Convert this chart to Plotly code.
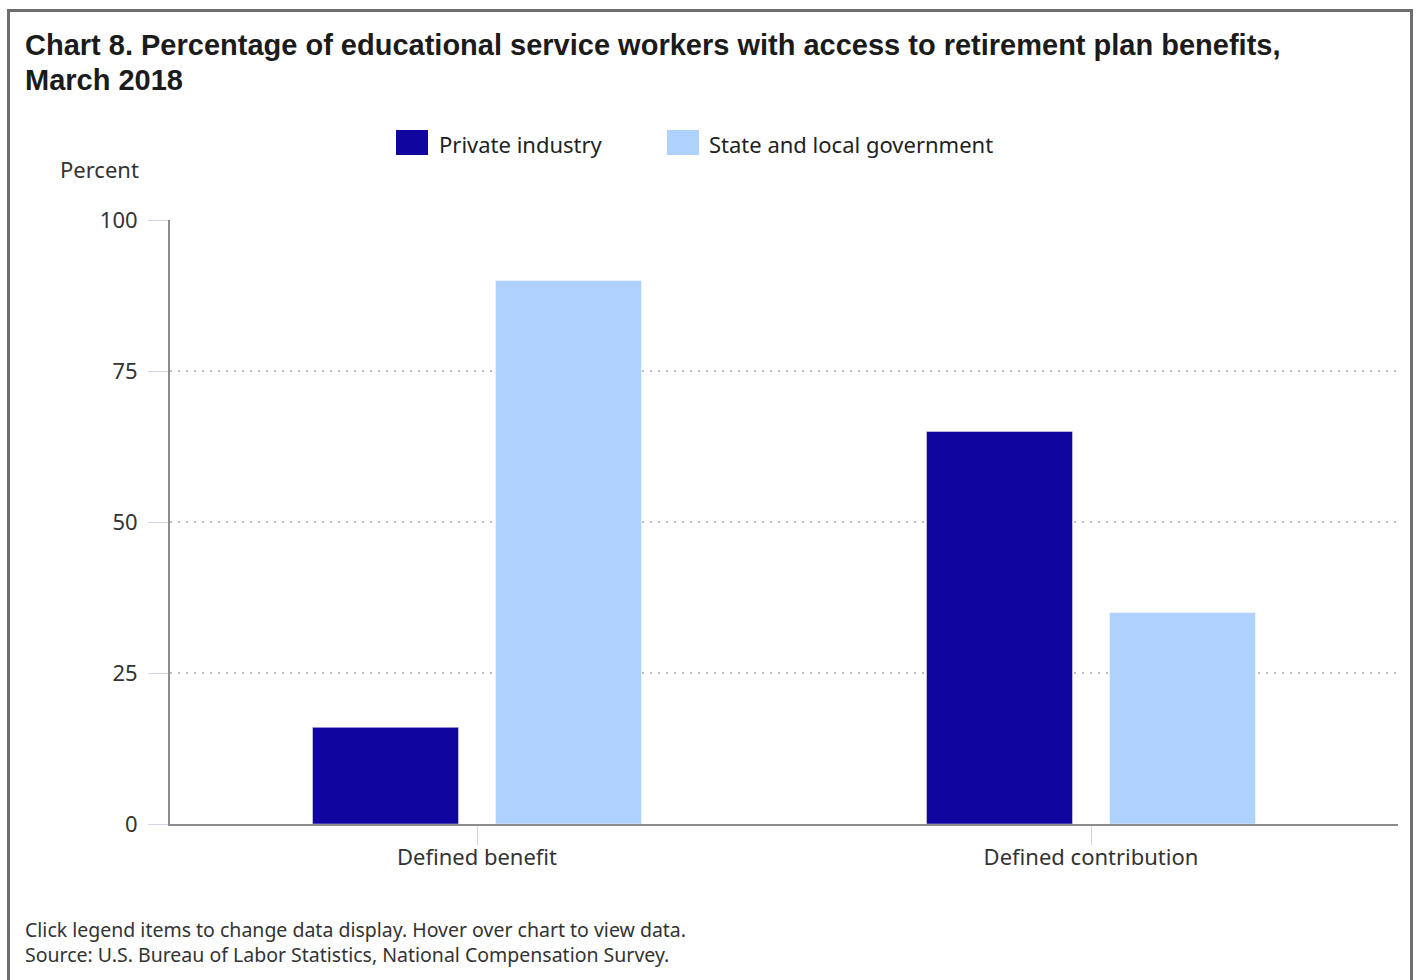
import plotly.graph_objects as go

# Data
categories = ["Defined benefit", "Defined contribution"]
private_industry = [16, 65]
state_local_gov = [90, 35]
series_names = ["Private industry", "State and local government"]
y_ticks = [0, 25, 50, 75, 100]
title_lines = [
    "Chart 8. Percentage of educational service workers with access to retirement plan benefits,",
    "March 2018",
]

DARK = "#10059f"
LIGHT = "#afd1fe"
TEXT_FONT = "Noto Sans"
TITLE_FONT = "Liberation Sans"

W, H = 1417, 980
L, R, T, B = 170, 19, 220, 156
PW, PH = W - L - R, H - T - B


def px(x):
    return (x - L) / PW


def py(y):
    return (H - B - y) / PH


fig = go.Figure()
fig.add_trace(go.Bar(
    x=categories, y=private_industry, name=series_names[0],
    marker=dict(color=DARK, line=dict(color="rgba(255,255,255,0.45)", width=1)),
    showlegend=False,
))
fig.add_trace(go.Bar(
    x=categories, y=state_local_gov, name=series_names[1],
    marker=dict(color=LIGHT, line=dict(color="rgba(255,255,255,0.45)", width=1)),
    showlegend=False,
))

shapes = []
# outer frame (left, top, right edges)
frame = dict(type="line", xref="paper", yref="paper",
             line=dict(color="#6e6e6e", width=3))
shapes.append({**frame, "x0": px(8.5), "x1": px(8.5), "y0": py(10.5), "y1": py(990)})
shapes.append({**frame, "x0": px(7), "x1": px(1413), "y0": py(10.5), "y1": py(10.5)})
shapes.append({**frame, "x0": px(1411.5), "x1": px(1411.5), "y0": py(10.5), "y1": py(990)})

# legend swatches
for (x0, x1), col in [((396, 428), DARK), ((667, 699), LIGHT)]:
    shapes.append(dict(type="rect", xref="paper", yref="paper",
                       x0=px(x0), x1=px(x1), y0=py(155), y1=py(130),
                       fillcolor=col, line=dict(width=0)))


def note(text, x, y, xanchor, yanchor, font, align="left"):
    return dict(text=text, x=px(x), y=py(y), xref="paper", yref="paper",
                xanchor=xanchor, yanchor=yanchor, align=align,
                font=font, showarrow=False)


title_font = dict(family=TITLE_FONT, size=29, color="#1b1b1b", weight="bold")
body = dict(family=TEXT_FONT, size=22, color="#222")
annotations = [
    note(title_lines[0], 23, 45, "left", "middle", title_font),
    note(title_lines[1], 23, 80, "left", "middle", title_font),
    note(series_names[0], 437, 144, "left", "middle", body),
    note(series_names[1], 707, 144, "left", "middle", body),
    note("Percent", 141, 169, "right", "middle", dict(family=TEXT_FONT, size=22, color="#333")),
    note("Click legend items to change data display. Hover over chart to view data.<br>"
         "Source: U.S. Bureau of Labor Statistics, National Compensation Survey.",
         23, 914, "left", "top", dict(family=TEXT_FONT, size=19.5, color="#333")),
]

fig.update_layout(
    width=W, height=H,
    margin=dict(l=L, r=R, t=T, b=B, pad=0),
    paper_bgcolor="white", plot_bgcolor="white",
    barmode="group", bargap=0.404, bargroupgap=0.202,
    shapes=shapes, annotations=annotations,
    font=dict(family=TEXT_FONT, color="#333"),
)
fig.update_yaxes(
    range=[0, 100], tickvals=y_ticks, ticks="outside", ticklen=20,
    tickcolor="#ccd6eb", tickwidth=1, ticklabelstandoff=6,
    tickfont=dict(family=TEXT_FONT, size=22, color="#333"),
    showline=True, linecolor="#8c8c8c", linewidth=2,
    showgrid=True, gridcolor="#bdbdbd", gridwidth=2, griddash="2px,6px",
    zeroline=False, fixedrange=True,
)
fig.update_xaxes(
    ticks="outside", ticklen=19, tickcolor="#ccd6eb", tickwidth=1,
    ticklabelstandoff=-6,
    tickfont=dict(family=TEXT_FONT, size=22, color="#333"),
    showline=True, linecolor="#8c8c8c", linewidth=2, showgrid=False,
    fixedrange=True,
)

fig.write_html("out.html")
